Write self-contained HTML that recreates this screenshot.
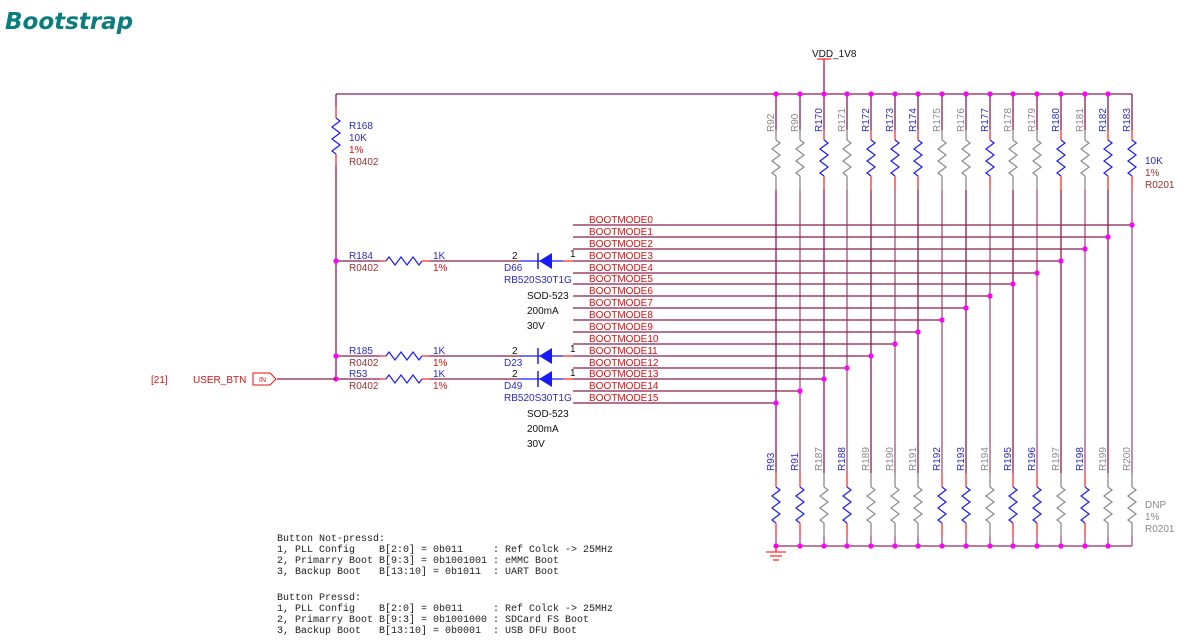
<!DOCTYPE html>
<html><head><meta charset="utf-8"><style>
body{margin:0;background:#fff;width:1184px;height:641px;overflow:hidden}
svg{position:absolute;left:0;top:0}
text{font-family:"Liberation Sans",sans-serif;font-size:10px}
.b{fill:#2b2bc8}.r{fill:#e01010}.m{fill:#a03030}.g{fill:#8a8a8a}.k{fill:#111}
.mono{font-family:"Liberation Mono",monospace;font-size:10px;fill:#222}
</style></head><body>
<svg id="s" width="1184" height="641" xmlns="http://www.w3.org/2000/svg">
<g id="geo"></g>
<text x="5" y="29" style="font-size:23px;font-weight:bold;font-style:italic;fill:#0b7d7d;font-family:'DejaVu Sans',sans-serif">Bootstrap</text>
<text x="812" y="57" class="k">VDD_1V8</text>
<g id="tl">
<text transform="translate(774,132) rotate(-90)" class="g">R92</text>
<text transform="translate(798,132) rotate(-90)" class="g">R90</text>
<text transform="translate(822,132) rotate(-90)" class="b">R170</text>
<text transform="translate(845,132) rotate(-90)" class="g">R171</text>
<text transform="translate(869,132) rotate(-90)" class="b">R172</text>
<text transform="translate(893,132) rotate(-90)" class="b">R173</text>
<text transform="translate(916,132) rotate(-90)" class="b">R174</text>
<text transform="translate(940,132) rotate(-90)" class="g">R175</text>
<text transform="translate(964,132) rotate(-90)" class="g">R176</text>
<text transform="translate(988,132) rotate(-90)" class="b">R177</text>
<text transform="translate(1011,132) rotate(-90)" class="g">R178</text>
<text transform="translate(1035,132) rotate(-90)" class="g">R179</text>
<text transform="translate(1059,132) rotate(-90)" class="b">R180</text>
<text transform="translate(1083,132) rotate(-90)" class="g">R181</text>
<text transform="translate(1106,132) rotate(-90)" class="b">R182</text>
<text transform="translate(1130,132) rotate(-90)" class="b">R183</text>
</g>
<g>
<text transform="translate(774,471) rotate(-90)" class="b">R93</text>
<text transform="translate(798,471) rotate(-90)" class="b">R91</text>
<text transform="translate(822,471) rotate(-90)" class="g">R187</text>
<text transform="translate(845,471) rotate(-90)" class="b">R188</text>
<text transform="translate(869,471) rotate(-90)" class="g">R189</text>
<text transform="translate(893,471) rotate(-90)" class="g">R190</text>
<text transform="translate(916,471) rotate(-90)" class="g">R191</text>
<text transform="translate(940,471) rotate(-90)" class="b">R192</text>
<text transform="translate(964,471) rotate(-90)" class="b">R193</text>
<text transform="translate(988,471) rotate(-90)" class="g">R194</text>
<text transform="translate(1011,471) rotate(-90)" class="b">R195</text>
<text transform="translate(1035,471) rotate(-90)" class="b">R196</text>
<text transform="translate(1059,471) rotate(-90)" class="g">R197</text>
<text transform="translate(1083,471) rotate(-90)" class="b">R198</text>
<text transform="translate(1106,471) rotate(-90)" class="g">R199</text>
<text transform="translate(1130,471) rotate(-90)" class="g">R200</text>
</g>
<text x="1145" y="164" class="b">10K</text>
<text x="1145" y="176" class="m">1%</text>
<text x="1145" y="188" class="m">R0201</text>
<text x="1145" y="508" class="g">DNP</text>
<text x="1145" y="520" class="g">1%</text>
<text x="1145" y="532" class="g">R0201</text>
<text x="589" y="223" class="r">BOOTMODE0</text>
<text x="589" y="235" class="r">BOOTMODE1</text>
<text x="589" y="247" class="r">BOOTMODE2</text>
<text x="589" y="259" class="r">BOOTMODE3</text>
<text x="589" y="271" class="r">BOOTMODE4</text>
<text x="589" y="282" class="r">BOOTMODE5</text>
<text x="589" y="294" class="r">BOOTMODE6</text>
<text x="589" y="306" class="r">BOOTMODE7</text>
<text x="589" y="318" class="r">BOOTMODE8</text>
<text x="589" y="330" class="r">BOOTMODE9</text>
<text x="589" y="342" class="r">BOOTMODE10</text>
<text x="589" y="354" class="r">BOOTMODE11</text>
<text x="589" y="366" class="r">BOOTMODE12</text>
<text x="589" y="377" class="r">BOOTMODE13</text>
<text x="589" y="389" class="r">BOOTMODE14</text>
<text x="589" y="401" class="r">BOOTMODE15</text>
<text x="349" y="129" class="b">R168</text>
<text x="349" y="141" class="b">10K</text>
<text x="349" y="153" class="r">1%</text>
<text x="349" y="165" class="m">R0402</text>
<text x="349" y="259" class="b">R184</text>
<text x="349" y="271" class="m">R0402</text>
<text x="433" y="259" class="b">1K</text>
<text x="433" y="271" class="r">1%</text>
<text x="512" y="259" class="k">2</text>
<text x="570" y="257" class="k">1</text>
<text x="504" y="271" class="b">D66</text>
<text x="504" y="283" class="b">RB520S30T1G</text>
<text x="527" y="299" class="k">SOD-523</text>
<text x="527" y="314" class="k">200mA</text>
<text x="527" y="329" class="k">30V</text>
<text x="349" y="354" class="b">R185</text>
<text x="349" y="366" class="m">R0402</text>
<text x="433" y="354" class="b">1K</text>
<text x="433" y="366" class="r">1%</text>
<text x="512" y="354" class="k">2</text>
<text x="570" y="352" class="k">1</text>
<text x="504" y="366" class="b">D23</text>
<text x="349" y="377" class="b">R53</text>
<text x="349" y="389" class="m">R0402</text>
<text x="433" y="377" class="b">1K</text>
<text x="433" y="389" class="r">1%</text>
<text x="512" y="377" class="k">2</text>
<text x="570" y="376" class="k">1</text>
<text x="504" y="389" class="b">D49</text>
<text x="504" y="401" class="b">RB520S30T1G</text>
<text x="527" y="417" class="k">SOD-523</text>
<text x="527" y="432" class="k">200mA</text>
<text x="527" y="447" class="k">30V</text>
<text x="151" y="383" class="r">[21]</text>
<text x="193" y="383" class="r">USER_BTN</text>
<path d="M253,373 H270 L276,379 L270,385 H253 Z" fill="none" stroke="#e01010" stroke-width="1"/>
<text x="259" y="382" class="r" style="font-size:7px">IN</text>
<g class="mono">
<text x="277" y="541" class="mono" xml:space="preserve">Button Not-pressd:</text>
<text x="277" y="552" class="mono" xml:space="preserve">1, PLL Config    B[2:0] = 0b011     : Ref Colck -&gt; 25MHz</text>
<text x="277" y="563" class="mono" xml:space="preserve">2, Primarry Boot B[9:3] = 0b1001001 : eMMC Boot</text>
<text x="277" y="574" class="mono" xml:space="preserve">3, Backup Boot   B[13:10] = 0b1011  : UART Boot</text>
<text x="277" y="600" class="mono" xml:space="preserve">Button Pressd:</text>
<text x="277" y="611" class="mono" xml:space="preserve">1, PLL Config    B[2:0] = 0b011     : Ref Colck -&gt; 25MHz</text>
<text x="277" y="622" class="mono" xml:space="preserve">2, Primarry Boot B[9:3] = 0b1001000 : SDCard FS Boot</text>
<text x="277" y="633" class="mono" xml:space="preserve">3, Backup Boot   B[13:10] = 0b0001  : USB DFU Boot</text>
</g>
</svg>
<script>
(function(){
var g=document.getElementById('geo'),h='';
var W='#8c1d4f',W2='#a8507a',R='#ff3030',B='#1a1aff',G='#8a8a8a',P='#ff00ff';
function L(x1,y1,x2,y2,c,w){h+='<line x1="'+x1+'" y1="'+y1+'" x2="'+x2+'" y2="'+y2+'" stroke="'+c+'" stroke-width="'+(w||1.3)+'"/>';}
function D(x,y){h+='<circle cx="'+x+'" cy="'+y+'" r="2.6" fill="'+P+'"/>';}
function zv(x,y,c){h+='<path d="M'+x+','+y+' l4,3 l-8,6 l8,6 l-8,6 l8,6 l-8,6 l4,3" fill="none" stroke="'+c+'" stroke-width="1.2"/>';}
function zh(x,y,c){h+='<path d="M'+x+','+y+' l3,-4 l6,8 l6,-8 l6,8 l6,-8 l6,8 l3,-4" fill="none" stroke="'+c+'" stroke-width="1.2"/>';}
var cols=[776,800,824,847,871,895,918,942,966,990,1013,1037,1061,1085,1108,1132];
var topPop=[0,0,1,0,1,1,1,0,0,1,0,0,1,0,1,1];
var botPop=[1,1,0,1,0,0,0,1,1,0,1,1,0,1,0,0];
var by=[225,237,249,261,273,284,296,308,320,332,344,356,368,379,391,403];
L(336,94,1132,94,W);L(776,546,1132,546,W2,1.6);
L(824,59,824,94,W);L(817,59,831,59,R);L(824,59,824,66,R);
cols.forEach(function(x,i){
 var tp=topPop[i],bp=botPop[i];
 L(x,94,x,130,W);
 L(x,130,x,140,tp?R:G);zv(x,140,tp?B:G);L(x,176,x,190,tp?R:G);
 L(x,190,x,473,i%2?W2:W);
 L(x,473,x,487,bp?R:G);zv(x,487,bp?B:G);L(x,523,x,536,bp?R:G);
 L(x,536,x,546,W2);
 if(i<15){D(x,94);D(x,546);}
});
for(var i=0;i<16;i++){var x=cols[15-i];L(573,by[i],x,by[i],W);D(x,by[i]);}
L(336,94,336,106,W);L(336,106,336,118,R);zv(336,118,B);L(336,154,336,166,R);L(336,166,336,379,W);
[261,356,379].forEach(function(y){
 L(336,y,380,y,W);L(380,y,386,y,R);zh(386,y,B);L(422,y,430,y,R);L(430,y,520,y,W);
 L(520,y,563,y,B);L(563,y,573,y,R);
 h+='<path d="M552,'+(y-8)+' L552,'+(y+8)+' L539,'+y+' Z" fill="'+B+'"/>';
 L(538,y-8,538,y+8,B,1.5);D(336,y);});
L(277,379,336,379,W);
L(776,546,776,552,R);L(766,552,786,552,R);L(770,556,782,556,R);L(773,560,779,560,R);
g.innerHTML=h;
})();
</script>
</body></html>
